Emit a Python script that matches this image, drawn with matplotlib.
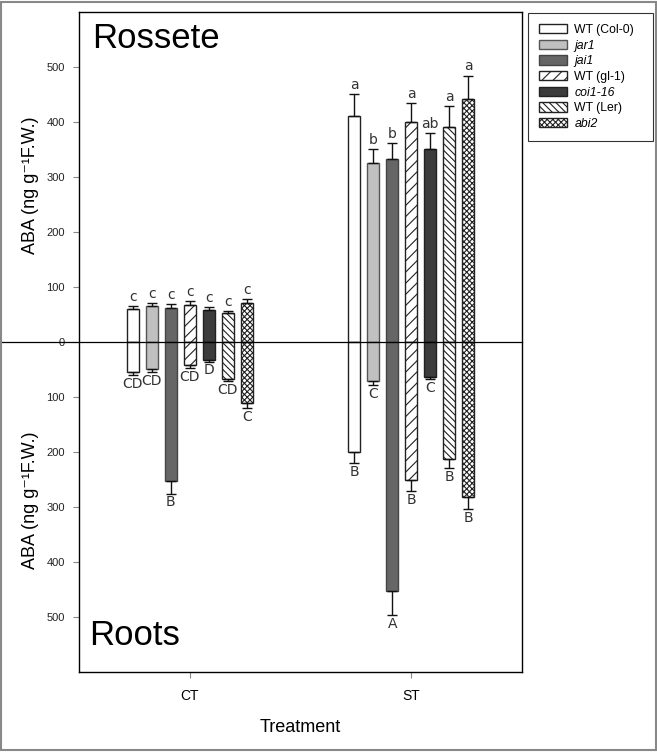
import numpy as np
import matplotlib.pyplot as plt
from matplotlib.patches import Rectangle

plt.rcParams['font.family'] = ['Liberation Sans', 'DejaVu Sans']
plt.rcParams['hatch.linewidth'] = 0.8

genotypes = ['WT (Col-0)', 'jar1', 'jai1', 'WT (gl-1)', 'coi1-16', 'WT (Ler)', 'abi2']
italic = [False, True, True, False, True, False, True]
treatments = ['CT', 'ST']

# rosette (upwards) and roots (downwards), ng g-1 F.W.
rosette_ct = [59, 65, 62, 67, 57, 52, 71]
rosette_ct_err = [6, 5, 6, 7, 6, 4, 7]
rosette_st = [410, 325, 332, 400, 350, 391, 441]
rosette_st_err = [40, 25, 29, 34, 30, 38, 43]
roots_ct = [55, 50, 252, 42, 33, 67, 111]
roots_ct_err = [5, 5, 24, 6, 3, 4, 9]
roots_st = [201, 72, 452, 251, 63, 212, 282]
roots_st_err = [19, 7, 45, 20, 5, 18, 22]

rosette_ct_let = ['c', 'c', 'c', 'c', 'c', 'c', 'c']
rosette_st_let = ['a', 'b', 'b', 'a', 'ab', 'a', 'a']
roots_ct_let = ['CD', 'CD', 'B', 'CD', 'D', 'CD', 'C']
roots_st_let = ['B', 'C', 'A', 'B', 'C', 'B', 'B']

faces = ['white', '#c0c0c0', '#666666', 'white', '#3c3c3c', 'white', 'white']
edges = ['#222222', '#555555', '#444444', '#222222', '#222222', '#222222', '#222222']
hatches = [None, None, None, '///', None, '\\\\\\\\\\', 'xxxxxx']

fig = plt.figure(figsize=(6.57, 7.52), dpi=100)
ax = fig.add_axes([0.1202, 0.1064, 0.6743, 0.878])

width = 0.054
step = 0.086
x = np.arange(len(treatments))

up = [rosette_ct, rosette_st]
up_err = [rosette_ct_err, rosette_st_err]
down = [roots_ct, roots_st]
down_err = [roots_ct_err, roots_st_err]
up_let = [rosette_ct_let, rosette_st_let]
down_let = [roots_ct_let, roots_st_let]

for i, g in enumerate(genotypes):
    xs = x + (i - 3) * step
    u = np.array([up[0][i], up[1][i]])
    ue = np.array([up_err[0][i], up_err[1][i]])
    d = np.array([down[0][i], down[1][i]])
    de = np.array([down_err[0][i], down_err[1][i]])
    ax.bar(xs, u, width, color=faces[i], edgecolor=edges[i], hatch=hatches[i],
           linewidth=1.0, label=g, zorder=2)
    ax.bar(xs, -d, width, color=faces[i], edgecolor=edges[i], hatch=hatches[i],
           linewidth=1.0, zorder=2)
    ax.errorbar(xs, u, yerr=[np.zeros(2), ue], fmt='none', ecolor='#111111',
                elinewidth=1, capsize=3.6, zorder=3)
    ax.errorbar(xs, -d, yerr=[de, np.zeros(2)], fmt='none', ecolor='#111111',
                elinewidth=1, capsize=3.6, zorder=3)
    for j in range(2):
        ax.text(xs[j], u[j] + ue[j] + 4, up_let[j][i], ha='center', va='bottom',
                fontsize=10, family='DejaVu Sans', color='#333333')
        ax.text(xs[j], -d[j] - de[j] - 3, down_let[j][i], ha='center', va='top',
                fontsize=10, family='DejaVu Sans', color='#333333')

ax.set_xlim(-0.5, 1.5)
ax.set_ylim(-600, 600)
yt = np.arange(-500, 501, 100)
ax.set_yticks(yt)
ax.set_yticklabels([str(abs(v)) for v in yt], fontsize=8, color='#222222')
ax.set_xticks(x)
ax.set_xticklabels(treatments, fontsize=10)
ax.tick_params(axis='y', length=4, color='#888888', pad=6)
ax.tick_params(axis='x', length=4, color='#888888', pad=8)
for s in ax.spines.values():
    s.set_linewidth(1.0)

# zero line running out into the label area
ax.plot([-0.179, 1], [0, 0], color='black', linewidth=0.9,
        transform=ax.get_yaxis_transform(), clip_on=False, zorder=4)

ax.text(0.03, 0.985, 'Rossete', transform=ax.transAxes, fontsize=25,
        ha='left', va='top')
ax.text(0.022, 0.03, 'Roots', transform=ax.transAxes, fontsize=25,
        ha='left', va='bottom')

ylab = 'ABA (ng g\u207b\u00b9F.W.)'
fig.text(0.047, 1 - 185 / 752, ylab, rotation=90, ha='center', va='center', fontsize=13)
fig.text(0.047, 1 - 500 / 752, ylab, rotation=90, ha='center', va='center', fontsize=13)
ax.set_xlabel('Treatment', fontsize=13, labelpad=12)

leg = fig.legend(loc='upper left',
                 bbox_to_anchor=(528 / 657, 1 - 142 / 752, 125 / 657, 129 / 752),
                 mode='expand', fontsize=8.8,
                 frameon=True, fancybox=False, edgecolor='black',
                 handlelength=2.3, handleheight=0.8, labelspacing=0.3,
                 borderpad=0.9, borderaxespad=0, handletextpad=0.6)
leg.get_frame().set_linewidth(0.8)
for t, it in zip(leg.get_texts(), italic):
    if it:
        t.set_fontstyle('italic')

fig.patches.append(Rectangle((0.002, 0.002), 0.996, 0.996, transform=fig.transFigure,
                             fill=False, edgecolor='#888888', linewidth=1.5))

plt.savefig('out.png', dpi=100)
